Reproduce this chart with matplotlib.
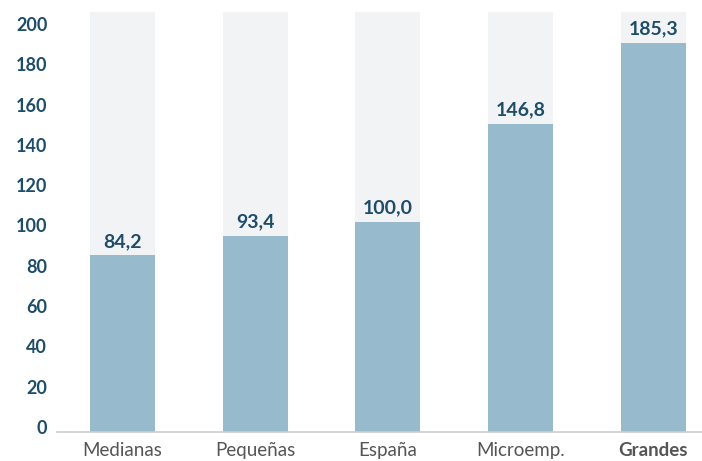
import matplotlib
matplotlib.use('Agg')
import matplotlib.pyplot as plt

categories = ['Medianas', 'Pequeñas', 'España', 'Microemp.', 'Grandes']
values = [84.2, 93.4, 100.0, 146.8, 185.3]
value_labels = ['84,2', '93,4', '100,0', '146,8', '185,3']
ytick_values = [0, 20, 40, 60, 80, 100, 120, 140, 160, 180, 200]
bg_max = 200

label_color = '#1d4d68'
bar_color = '#97bbcc'
bg_color = '#f2f3f5'

fig = plt.figure(figsize=(7.02, 4.61), dpi=100)
ax = fig.add_axes([57 / 702, 29 / 461, (702 - 57) / 702, 430.5 / 461])

x = list(range(len(categories)))
ax.bar(x, [bg_max] * len(categories), width=0.49, color=bg_color, zorder=1)
ax.bar(x, values, width=0.49, color=bar_color, zorder=2)

ax.set_xlim(-0.495, 4.367)
ax.set_ylim(0, 205)

for xi, v, lab in zip(x, values, value_labels):
    ax.annotate(lab, (xi, v), xytext=(0, 10), textcoords='offset points',
                ha='center', va='center', fontsize=14, fontweight='bold',
                color=label_color, family='Lato', zorder=3)

# tick label positions (visual placement as in reference)
ax.set_yticks([2.4 + v * 0.9595 for v in ytick_values])
ax.set_yticklabels([str(v) for v in ytick_values], fontsize=13, fontweight='bold',
                   color=label_color, family='Lato')
ax.tick_params(axis='y', length=0, pad=7)

ax.set_xticks(x)
ax.set_xticklabels(categories, fontsize=13.5, color='#555555', family='Lato')
ax.get_xticklabels()[-1].set_fontweight('bold')
ax.tick_params(axis='x', length=0, pad=7)

for s in ['top', 'right', 'left']:
    ax.spines[s].set_visible(False)
ax.spines['bottom'].set_color('#cccccc')
ax.spines['bottom'].set_linewidth(1.2)
ax.spines['bottom'].set_zorder(4)

fig.savefig('out.png', dpi=100)
